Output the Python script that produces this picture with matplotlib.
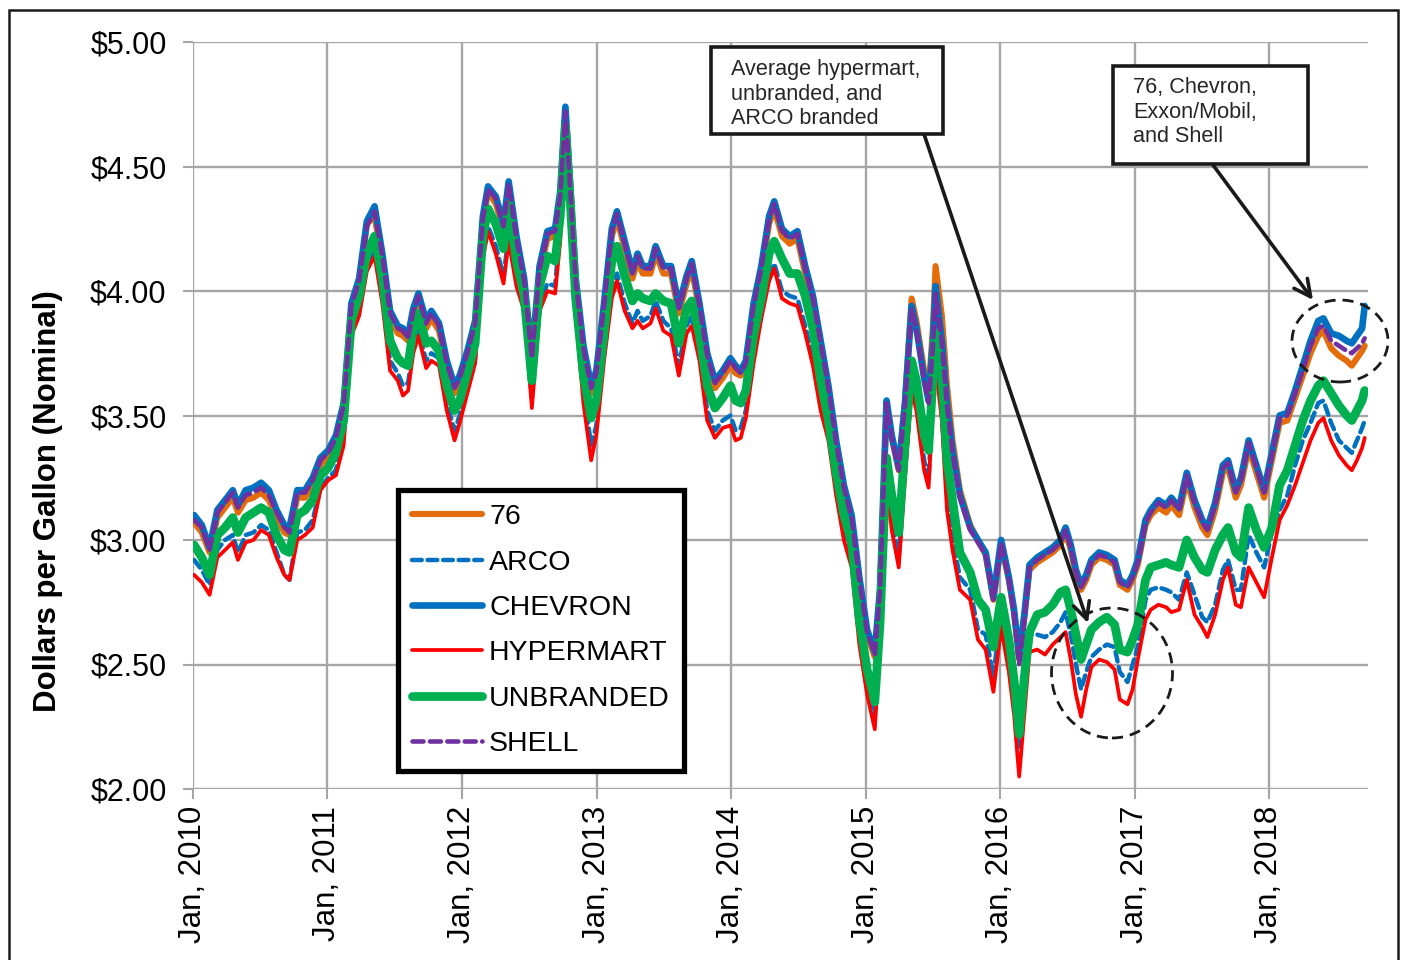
"""Retail gasoline prices by brand, 2010-2018"""
import pandas as pd
import matplotlib
matplotlib.use('Agg')
import matplotlib.pyplot as plt
from matplotlib.patches import Rectangle, Ellipse

plt.rcParams['font.family'] = ['Liberation Sans', 'DejaVu Sans']

# Data (dollars per gallon)
dates = [
    '2010-01-04', '2010-01-25', '2010-02-15', '2010-03-08', '2010-03-29', '2010-04-19', '2010-05-03',
    '2010-05-24', '2010-06-14', '2010-07-05', '2010-07-26', '2010-08-16', '2010-09-06', '2010-09-20',
    '2010-10-11', '2010-11-01', '2010-11-22', '2010-12-13', '2011-01-03', '2011-01-24', '2011-02-14',
    '2011-03-07', '2011-03-28', '2011-04-18', '2011-05-09', '2011-05-30', '2011-06-20', '2011-07-11',
    '2011-07-25', '2011-08-08', '2011-08-22', '2011-09-05', '2011-09-26', '2011-10-10', '2011-10-31',
    '2011-11-21', '2011-12-12', '2011-12-26', '2012-01-16', '2012-02-06', '2012-02-27', '2012-03-12',
    '2012-04-02', '2012-04-23', '2012-05-07', '2012-05-28', '2012-06-18', '2012-07-09', '2012-07-30',
    '2012-08-20', '2012-09-10', '2012-09-24', '2012-10-08', '2012-10-22', '2012-11-05', '2012-11-26',
    '2012-12-17', '2012-12-31', '2013-01-21', '2013-02-11', '2013-02-25', '2013-03-18', '2013-04-08',
    '2013-04-22', '2013-05-06', '2013-05-27', '2013-06-10', '2013-07-01', '2013-07-22', '2013-08-12',
    '2013-09-02', '2013-09-16', '2013-10-07', '2013-10-28', '2013-11-18', '2013-12-09', '2013-12-30',
    '2014-01-13', '2014-01-27', '2014-02-10', '2014-03-03', '2014-03-24', '2014-04-14', '2014-04-28',
    '2014-05-19', '2014-06-09', '2014-06-30', '2014-07-21', '2014-08-11', '2014-09-01', '2014-09-22',
    '2014-10-13', '2014-11-03', '2014-11-24', '2014-12-15', '2015-01-05', '2015-01-26', '2015-02-09',
    '2015-02-27', '2015-03-13', '2015-04-01', '2015-04-18', '2015-05-06', '2015-05-19', '2015-06-09',
    '2015-06-21', '2015-07-03', '2015-07-10', '2015-07-27', '2015-08-10', '2015-08-25', '2015-09-14',
    '2015-10-12', '2015-11-02', '2015-11-23', '2015-12-14', '2016-01-04', '2016-01-25', '2016-02-08',
    '2016-02-22', '2016-03-07', '2016-03-21', '2016-04-11', '2016-05-02', '2016-05-23', '2016-06-13',
    '2016-06-27', '2016-07-11', '2016-07-25', '2016-08-08', '2016-08-22', '2016-09-05', '2016-09-26',
    '2016-10-17', '2016-11-07', '2016-11-21', '2016-12-12', '2016-12-26', '2017-01-09', '2017-01-30',
    '2017-02-13', '2017-03-06', '2017-03-27', '2017-04-10', '2017-05-01', '2017-05-22', '2017-06-12',
    '2017-07-03', '2017-07-17', '2017-08-07', '2017-08-28', '2017-09-11', '2017-10-02', '2017-10-16',
    '2017-11-06', '2017-11-27', '2017-12-18', '2018-01-08', '2018-01-29', '2018-02-19', '2018-03-12',
    '2018-04-02', '2018-04-23', '2018-05-14', '2018-05-28', '2018-06-18', '2018-07-09', '2018-07-30',
    '2018-08-13', '2018-08-27', '2018-09-10', '2018-09-17',
]

chevron = [
    3.10, 3.06, 2.97, 3.12, 3.16, 3.20, 3.14, 3.20, 3.21, 3.23, 3.20, 3.12, 3.06, 3.05,
    3.20, 3.20, 3.25, 3.33, 3.36, 3.42, 3.55, 3.95, 4.05, 4.28, 4.34, 4.15, 3.92, 3.86,
    3.85, 3.82, 3.93, 3.99, 3.88, 3.92, 3.87, 3.72, 3.62, 3.66, 3.76, 3.88, 4.30, 4.42,
    4.38, 4.27, 4.44, 4.22, 4.05, 3.74, 4.10, 4.24, 4.25, 4.40, 4.74, 4.40, 4.05, 3.78,
    3.62, 3.68, 3.95, 4.25, 4.32, 4.20, 4.08, 4.15, 4.10, 4.10, 4.18, 4.10, 4.10, 3.94,
    4.06, 4.12, 3.95, 3.75, 3.64, 3.68, 3.73, 3.70, 3.68, 3.72, 3.95, 4.10, 4.30, 4.36,
    4.25, 4.22, 4.24, 4.10, 3.98, 3.80, 3.62, 3.40, 3.22, 3.10, 2.85, 2.64, 2.55, 2.80,
    3.56, 3.42, 3.29, 3.55, 3.94, 3.85, 3.65, 3.56, 3.80, 4.02, 3.80, 3.55, 3.36, 3.18,
    3.05, 3.00, 2.95, 2.77, 3.00, 2.85, 2.72, 2.53, 2.70, 2.90, 2.93, 2.95, 2.97, 3.00,
    3.05, 2.98, 2.88, 2.82, 2.86, 2.92, 2.95, 2.94, 2.92, 2.84, 2.82, 2.86, 2.92, 3.08,
    3.12, 3.16, 3.14, 3.17, 3.13, 3.27, 3.16, 3.08, 3.05, 3.15, 3.30, 3.32, 3.20, 3.25,
    3.40, 3.30, 3.20, 3.35, 3.50, 3.51, 3.60, 3.70, 3.80, 3.88, 3.89, 3.83, 3.82, 3.80,
    3.79, 3.82, 3.85, 3.94,
]

s76 = [
    3.07, 3.03, 2.95, 3.09, 3.13, 3.17, 3.11, 3.16, 3.17, 3.19, 3.16, 3.09, 3.03, 3.02,
    3.17, 3.17, 3.22, 3.30, 3.34, 3.40, 3.52, 3.93, 4.02, 4.27, 4.30, 4.12, 3.89, 3.83,
    3.82, 3.80, 3.90, 3.96, 3.85, 3.89, 3.84, 3.69, 3.59, 3.63, 3.73, 3.85, 4.27, 4.40,
    4.35, 4.25, 4.41, 4.19, 4.03, 3.72, 4.07, 4.21, 4.22, 4.38, 4.72, 4.38, 4.03, 3.75,
    3.59, 3.65, 3.92, 4.22, 4.29, 4.17, 4.05, 4.12, 4.07, 4.07, 4.15, 4.07, 4.07, 3.91,
    4.03, 4.09, 3.92, 3.72, 3.61, 3.65, 3.70, 3.67, 3.66, 3.69, 3.92, 4.07, 4.27, 4.33,
    4.22, 4.19, 4.21, 4.07, 3.95, 3.77, 3.60, 3.38, 3.20, 3.07, 2.83, 2.62, 2.53, 2.78,
    3.54, 3.41, 3.28, 3.56, 3.97, 3.88, 3.68, 3.59, 3.86, 4.10, 3.90, 3.62, 3.40, 3.20,
    3.06, 3.00, 2.94, 2.76, 2.98, 2.84, 2.71, 2.52, 2.69, 2.88, 2.91, 2.93, 2.95, 2.98,
    3.03, 2.96, 2.86, 2.80, 2.84, 2.90, 2.93, 2.92, 2.90, 2.82, 2.80, 2.84, 2.90, 3.06,
    3.10, 3.13, 3.11, 3.14, 3.10, 3.24, 3.13, 3.05, 3.02, 3.12, 3.27, 3.29, 3.17, 3.22,
    3.37, 3.27, 3.17, 3.32, 3.47, 3.48, 3.57, 3.66, 3.75, 3.82, 3.84, 3.77, 3.74, 3.72,
    3.70, 3.73, 3.76, 3.78,
]

shell = [
    3.08, 3.05, 2.96, 3.11, 3.15, 3.19, 3.13, 3.18, 3.19, 3.21, 3.18, 3.11, 3.05, 3.03,
    3.19, 3.19, 3.24, 3.32, 3.35, 3.41, 3.54, 3.94, 4.04, 4.26, 4.32, 4.14, 3.91, 3.85,
    3.84, 3.81, 3.92, 3.98, 3.87, 3.91, 3.86, 3.71, 3.61, 3.65, 3.75, 3.87, 4.29, 4.41,
    4.37, 4.26, 4.43, 4.21, 4.04, 3.73, 4.09, 4.23, 4.24, 4.38, 4.72, 4.39, 4.04, 3.77,
    3.61, 3.67, 3.94, 4.24, 4.31, 4.19, 4.07, 4.14, 4.09, 4.09, 4.17, 4.09, 4.09, 3.93,
    4.05, 4.11, 3.94, 3.74, 3.63, 3.67, 3.72, 3.69, 3.67, 3.71, 3.94, 4.09, 4.29, 4.35,
    4.24, 4.21, 4.23, 4.09, 3.97, 3.79, 3.61, 3.39, 3.21, 3.09, 2.84, 2.63, 2.54, 2.79,
    3.55, 3.41, 3.28, 3.54, 3.93, 3.84, 3.64, 3.55, 3.78, 3.99, 3.79, 3.54, 3.35, 3.17,
    3.04, 2.99, 2.94, 2.76, 2.99, 2.84, 2.70, 2.50, 2.68, 2.89, 2.92, 2.94, 2.96, 2.99,
    3.04, 2.97, 2.87, 2.81, 2.85, 2.91, 2.94, 2.93, 2.91, 2.83, 2.81, 2.85, 2.91, 3.07,
    3.11, 3.15, 3.13, 3.16, 3.12, 3.26, 3.15, 3.07, 3.04, 3.14, 3.29, 3.31, 3.19, 3.24,
    3.39, 3.29, 3.19, 3.34, 3.49, 3.50, 3.59, 3.68, 3.78, 3.85, 3.86, 3.80, 3.78, 3.76,
    3.75, 3.77, 3.79, 3.81,
]

arco = [
    2.92, 2.88, 2.82, 2.96, 3.00, 3.02, 2.95, 3.02, 3.03, 3.06, 3.04, 2.95, 2.86, 2.84,
    3.03, 3.04, 3.08, 3.21, 3.25, 3.28, 3.42, 3.85, 3.93, 4.10, 4.16, 3.98, 3.72, 3.67,
    3.62, 3.63, 3.78, 3.84, 3.72, 3.75, 3.73, 3.55, 3.44, 3.50, 3.62, 3.73, 4.16, 4.26,
    4.18, 4.06, 4.22, 4.05, 3.94, 3.57, 3.95, 4.03, 4.02, 4.25, 4.66, 4.32, 3.93, 3.60,
    3.38, 3.46, 3.75, 4.00, 4.07, 3.95, 3.87, 3.92, 3.88, 3.90, 3.96, 3.88, 3.85, 3.70,
    3.86, 3.90, 3.75, 3.52, 3.44, 3.48, 3.50, 3.44, 3.45, 3.52, 3.74, 3.92, 4.07, 4.11,
    4.00, 3.98, 3.97, 3.86, 3.73, 3.56, 3.44, 3.22, 3.03, 2.93, 2.64, 2.42, 2.30, 2.62,
    3.27, 3.08, 2.93, 3.28, 3.63, 3.55, 3.32, 3.24, 3.58, 3.74, 3.52, 3.18, 3.01, 2.85,
    2.80, 2.64, 2.62, 2.45, 2.72, 2.55, 2.38, 2.17, 2.40, 2.62, 2.62, 2.61, 2.63, 2.67,
    2.71, 2.62, 2.50, 2.40, 2.47, 2.53, 2.56, 2.58, 2.57, 2.47, 2.43, 2.50, 2.57, 2.76,
    2.80, 2.81, 2.80, 2.79, 2.76, 2.87, 2.78, 2.69, 2.67, 2.74, 2.88, 2.92, 2.80, 2.80,
    3.02, 2.95, 2.89, 3.03, 3.12, 3.18, 3.30, 3.40, 3.47, 3.55, 3.56, 3.47, 3.40, 3.37,
    3.35, 3.40, 3.45, 3.48,
]

hypermart = [
    2.86, 2.83, 2.78, 2.93, 2.96, 2.99, 2.92, 2.99, 3.00, 3.04, 3.02, 2.93, 2.86, 2.84,
    3.00, 3.02, 3.05, 3.20, 3.24, 3.26, 3.38, 3.82, 3.90, 4.08, 4.14, 3.95, 3.68, 3.64,
    3.58, 3.60, 3.75, 3.82, 3.69, 3.72, 3.70, 3.52, 3.40, 3.47, 3.59, 3.71, 4.13, 4.24,
    4.15, 4.03, 4.20, 4.02, 3.92, 3.53, 3.92, 4.00, 3.99, 4.20, 4.63, 4.30, 3.90, 3.55,
    3.32, 3.42, 3.72, 3.97, 4.04, 3.92, 3.85, 3.88, 3.85, 3.87, 3.93, 3.84, 3.82, 3.66,
    3.83, 3.86, 3.72, 3.48, 3.41, 3.45, 3.46, 3.40, 3.41, 3.49, 3.71, 3.89, 4.04, 4.09,
    3.97, 3.95, 3.94, 3.83, 3.70, 3.52, 3.40, 3.18, 3.00, 2.89, 2.58, 2.38, 2.24, 2.58,
    3.22, 3.04, 2.89, 3.25, 3.60, 3.52, 3.28, 3.21, 3.55, 3.70, 3.48, 3.12, 2.96, 2.80,
    2.76, 2.60, 2.56, 2.39, 2.65, 2.47, 2.30, 2.05, 2.30, 2.55, 2.56, 2.54, 2.58, 2.61,
    2.63, 2.52, 2.38, 2.29, 2.40, 2.49, 2.52, 2.51, 2.48, 2.36, 2.34, 2.40, 2.52, 2.68,
    2.72, 2.74, 2.73, 2.71, 2.72, 2.84, 2.70, 2.65, 2.61, 2.70, 2.84, 2.89, 2.74, 2.73,
    2.89, 2.83, 2.77, 2.93, 3.08, 3.14, 3.22, 3.31, 3.40, 3.47, 3.49, 3.40, 3.34, 3.30,
    3.28, 3.32, 3.37, 3.41,
]

unbranded = [
    2.98, 2.93, 2.86, 3.02, 3.05, 3.09, 3.03, 3.09, 3.11, 3.13, 3.11, 3.02, 2.96, 2.95,
    3.10, 3.12, 3.16, 3.26, 3.29, 3.35, 3.48, 3.88, 3.98, 4.15, 4.22, 4.05, 3.80, 3.73,
    3.71, 3.70, 3.85, 3.91, 3.79, 3.80, 3.76, 3.62, 3.52, 3.56, 3.67, 3.79, 4.22, 4.33,
    4.27, 4.17, 4.35, 4.12, 3.98, 3.64, 4.02, 4.14, 4.12, 4.30, 4.66, 4.34, 3.97, 3.66,
    3.49, 3.56, 3.83, 4.12, 4.18, 4.06, 3.96, 3.99, 3.97, 3.96, 3.99, 3.96, 3.95, 3.79,
    3.93, 3.96, 3.82, 3.62, 3.53, 3.57, 3.62, 3.56, 3.55, 3.60, 3.82, 3.97, 4.15, 4.20,
    4.13, 4.07, 4.07, 3.98, 3.85, 3.64, 3.48, 3.27, 3.10, 2.99, 2.68, 2.48, 2.35, 2.66,
    3.33, 3.18, 3.03, 3.38, 3.72, 3.64, 3.42, 3.36, 3.65, 3.83, 3.66, 3.32, 3.16, 2.95,
    2.87, 2.76, 2.72, 2.57, 2.77, 2.60, 2.44, 2.22, 2.45, 2.63, 2.70, 2.71, 2.74, 2.79,
    2.80, 2.72, 2.62, 2.52, 2.58, 2.64, 2.67, 2.69, 2.66, 2.56, 2.55, 2.60, 2.66, 2.84,
    2.89, 2.90, 2.91, 2.90, 2.89, 3.00, 2.93, 2.88, 2.87, 2.96, 3.02, 3.05, 2.95, 2.93,
    3.13, 3.04, 2.97, 3.05, 3.22, 3.28, 3.38, 3.48, 3.56, 3.62, 3.64, 3.59, 3.54, 3.50,
    3.48, 3.52, 3.56, 3.60,
]

series_names = ['76', 'ARCO', 'CHEVRON', 'HYPERMART', 'UNBRANDED', 'SHELL']
year_ticks = list(range(2010, 2019))

W, H = 1403, 960


def px(x, y):
    """pixel position of the reference -> figure fraction"""
    return x / W, 1 - y / H


t = pd.to_datetime(dates)

fig = plt.figure(figsize=(W / 100, H / 100), dpi=100)
ax = fig.add_axes([193 / W, 1 - 789 / H, (1368 - 193) / W, (789 - 42) / H])

styles = {
    '76': dict(color='#E46C0A', lw=4.4, ls='-'),
    'ARCO': dict(color='#0070C0', lw=3.2, ls=(0, (2.2, 1.3))),
    'CHEVRON': dict(color='#0070C0', lw=4.8, ls='-'),
    'HYPERMART': dict(color='#FF0000', lw=2.7, ls='-'),
    'UNBRANDED': dict(color='#00B050', lw=6.3, ls='-'),
    'SHELL': dict(color='#7030A0', lw=3.3, ls=(0, (2.4, 1.4))),
}
values = {'76': s76, 'ARCO': arco, 'CHEVRON': chevron,
          'HYPERMART': hypermart, 'UNBRANDED': unbranded, 'SHELL': shell}

for name in series_names:
    st = styles[name]
    ax.plot(t, values[name], color=st['color'], lw=st['lw'], ls=st['ls'],
            solid_capstyle='round', solid_joinstyle='round', dash_capstyle='round',
            label=name, zorder=3)

ax.set_xlim(pd.Timestamp('2010-01-01'), pd.Timestamp('2018-09-26'))
ax.set_ylim(2.0, 5.0)
yt = [2.0, 2.5, 3.0, 3.5, 4.0, 4.5, 5.0]
ax.set_yticks(yt)
ax.set_yticklabels([f'${v:.2f}' for v in yt], fontsize=22)
ax.set_xticks([pd.Timestamp(f'{y}-01-01') for y in year_ticks])
ax.set_xticklabels([f'Jan, {y}' for y in year_ticks], rotation=90, fontsize=22.5)
ax.tick_params(axis='both', color='#A6A6A6', width=1.5, length=7)
ax.tick_params(axis='y', pad=12)
ax.tick_params(axis='x', pad=5)
for sp in ax.spines.values():
    sp.set_visible(False)
ax.grid(True, color='#A6A6A6', lw=1.7, zorder=0)
ax.set_axisbelow(True)
fig.text(*px(48, 501), 'Dollars per Gallon (Nominal)', fontsize=22.5, fontweight='bold',
         rotation=90, ha='center', va='center')

leg = ax.legend(loc='upper left', bbox_to_anchor=((398 - 193) / 1175, (789 - 490) / 747),
                fontsize=20.5, handlelength=2.45, handletextpad=0.25, labelspacing=0.68,
                borderpad=0.5, fancybox=False, framealpha=1, edgecolor='black',
                borderaxespad=0)
leg.get_frame().set_linewidth(3.8)
leg.set_zorder(5)

# annotation boxes
box1 = Rectangle(px(711, 134), (943 - 711) / W, (134 - 47) / H, transform=fig.transFigure,
                 fc='white', ec='#1a1a1a', lw=2.6, zorder=6)
fig.add_artist(box1)
for i, line in enumerate(['Average hypermart,', 'unbranded, and', 'ARCO branded']):
    fig.text(*px(731, 70 + 24.5 * i), line, fontsize=15.6, va='center', ha='left',
             color='#262626', zorder=7)

box2 = Rectangle(px(1113, 164), (1308 - 1113) / W, (164 - 66) / H, transform=fig.transFigure,
                 fc='white', ec='#1a1a1a', lw=2.6, zorder=6)
fig.add_artist(box2)
for i, line in enumerate(['76, Chevron,', 'Exxon/Mobil,', 'and Shell']):
    fig.text(*px(1133, 88 + 24.5 * i), line, fontsize=15.6, va='center', ha='left',
             color='#262626', zorder=7)

# arrows
for start, tip in [((924, 134), (1088, 623)), ((1213, 165), (1313, 300))]:
    ax.annotate('', xy=px(*tip), xytext=px(*start), xycoords='figure fraction',
                textcoords='figure fraction', annotation_clip=False,
                arrowprops=dict(arrowstyle='->', lw=2.6, color='#1a1a1a', mutation_scale=30,
                                shrinkA=0, shrinkB=0), zorder=6)

# dashed circles
for cx, cy, w, h in [(1112, 673, 121, 130), (1340, 341, 96, 82)]:
    fig.add_artist(Ellipse(px(cx, cy), w / W, h / H, transform=fig.transFigure, fill=False,
                           ec='#1a1a1a', lw=2.0, ls=(0, (4, 2.5)), zorder=6))

# outer frame
fig.add_artist(Rectangle((9 / W, -0.05), (1398 - 9) / W, 1 - 10 / H + 0.05,
                         transform=fig.transFigure, fill=False, ec='#1a1a1a', lw=1.8))

fig.savefig('out.png', dpi=100)
